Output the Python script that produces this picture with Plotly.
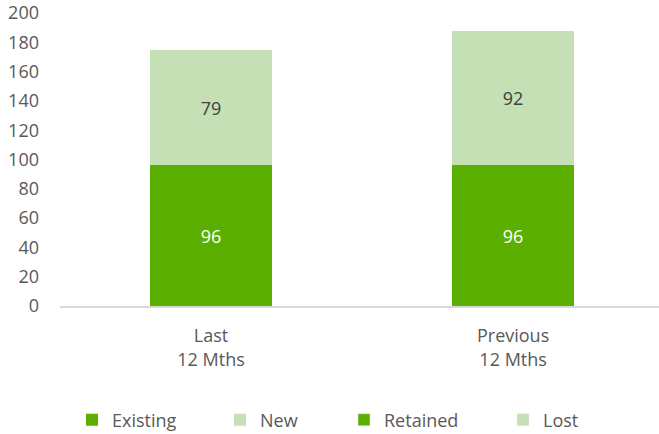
import plotly.graph_objects as go

categories = ["Last<br>12 Mths", "Previous<br>12 Mths"]
existing = [96, 96]
new = [79, 92]
retained = [None, None]
lost = [None, None]
y_ticks = [0, 20, 40, 60, 80, 100, 120, 140, 160, 180, 200]

DARK = "#5AAF00"
LIGHT = "#C5E0B4"
FONT = "Open Sans"
FS = 18
W, H = 659, 434
L, R, T, B = 60, 0, 13, 128

fig = go.Figure()
fig.add_bar(x=categories, y=existing, name="Existing", marker=dict(color=DARK, line=dict(width=0)),
            text=existing, textposition="inside", insidetextanchor="middle",
            textfont=dict(color="white", size=FS, family=FONT), legend="legend")
fig.add_bar(x=categories, y=new, name="New", marker=dict(color=LIGHT, line=dict(width=0)),
            text=new, textposition="inside", insidetextanchor="middle",
            textfont=dict(color="#404040", size=FS, family=FONT), legend="legend2")
fig.add_bar(x=categories, y=retained, name="Retained", marker=dict(color=DARK), legend="legend3")
fig.add_bar(x=categories, y=lost, name="Lost", marker=dict(color=LIGHT), legend="legend4")

fig.update_traces(width=0.404, hoverinfo="skip")

pw = W - L - R
ph = H - T - B
def lx(px):
    return (px - L) / pw
def ly(py):
    return (H - B - py) / ph

leg_common = dict(orientation="h", xanchor="left", yanchor="middle", bgcolor="rgba(0,0,0,0)",
                  font=dict(family=FONT, size=FS, color="#595959"), itemwidth=30,
                  tracegroupgap=0, itemclick=False)
fig.update_layout(
    barmode="stack",
    width=W, height=H,
    margin=dict(l=L, r=R, t=T, b=B, pad=0, autoexpand=False),
    paper_bgcolor="white", plot_bgcolor="white",
    font=dict(family=FONT, size=FS, color="#595959"),
    xaxis=dict(type="category", range=[-0.5, 1.483], showline=True, linecolor="#D9D9D9",
               linewidth=1.5, ticks="", showgrid=False, tickfont=dict(size=FS, color="#595959"),
               ticklabelstandoff=13, fixedrange=True, automargin=False),
    yaxis=dict(range=[0, 200.05], tickvals=y_ticks, showgrid=False, zeroline=False, showline=False,
               ticks="", ticklabelstandoff=20, tickfont=dict(size=FS, color="#595959"),
               ticklabeloverflow="allow", fixedrange=True, automargin=False),
    legend=dict(x=lx(72), y=ly(420), **leg_common),
    legend2=dict(x=lx(220), y=ly(420), **leg_common),
    legend3=dict(x=lx(344), y=ly(420), **leg_common),
    legend4=dict(x=lx(503), y=ly(420), **leg_common),
    showlegend=True,
)

fig.write_html("out.html")
